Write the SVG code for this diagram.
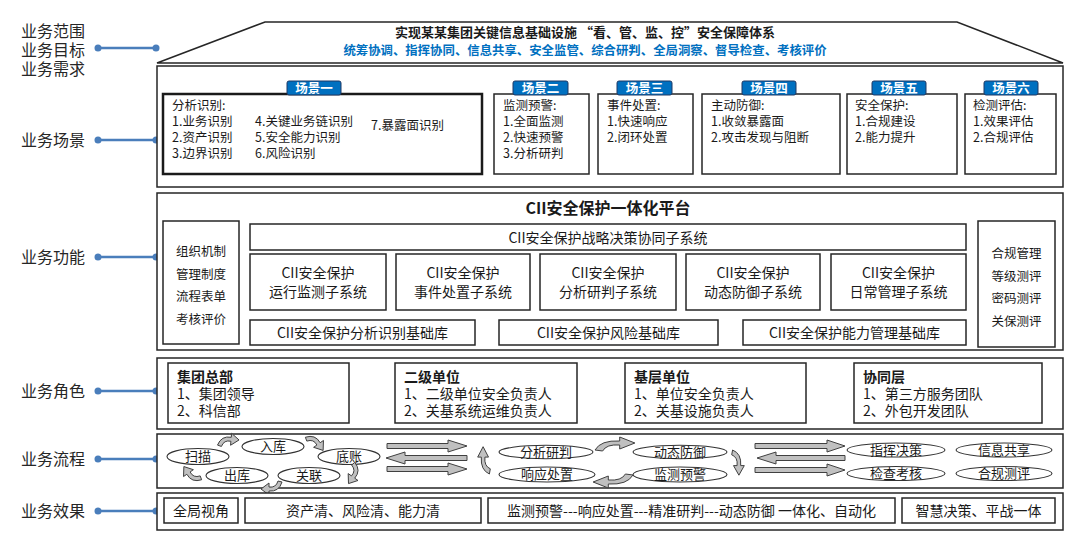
<svg xmlns="http://www.w3.org/2000/svg" width="1080" height="537" viewBox="0 0 1080 537">
<style>
.box{fill:#fff;stroke:#262626;stroke-width:1.5}
.t{font-family:"Noto Sans CJK SC","Liberation Sans",sans-serif;fill:#1a1a1a}
.lbl{font-size:16px;fill:#262626}
.sc{font-size:12.5px}
.p14{font-size:14px}
.p13{font-size:13px}
.b{font-weight:bold}
.m{text-anchor:middle}
.tag{fill:#0070c0;stroke:#1f3864;stroke-width:1}
.tagt{font-size:12.5px;font-weight:bold;fill:#fff}
.conn{stroke:#4a7ebb;stroke-width:2.5;fill:none}
.dot{fill:#4a7ebb}
.arr{fill:#c0c0c0;stroke:#404040;stroke-width:1}
.ell{fill:#fff;stroke:#333;stroke-width:1.1}
</style>
<defs>
<path id="ca" d="M -10,6 Q -7,-4 3,-3 L 3,-7 L 11,-1 L 3,5 L 3,1 Q -4,0 -6,7 Z" vector-effect="non-scaling-stroke"/>
</defs>

<g id="labels">
<text class="t lbl" x="21" y="37"><tspan x="21" y="37">业务范围</tspan><tspan x="21" y="56">业务目标</tspan><tspan x="21" y="75">业务需求</tspan></text>
<text class="t lbl" x="21" y="146">业务场景</text>
<text class="t lbl" x="21" y="263">业务功能</text>
<text class="t lbl" x="21" y="397">业务角色</text>
<text class="t lbl" x="21" y="465">业务流程</text>
<text class="t lbl" x="21" y="517">业务效果</text>
</g>
<g id="connectors">
<line class="conn" x1="98" y1="48" x2="156" y2="48"/><circle class="dot" cx="98" cy="48" r="3.5"/><circle class="dot" cx="156" cy="48" r="3.5"/>
<line class="conn" x1="98" y1="140" x2="156" y2="140"/><circle class="dot" cx="98" cy="140" r="3.5"/><circle class="dot" cx="156" cy="140" r="3.5"/>
<line class="conn" x1="98" y1="257" x2="156" y2="257"/><circle class="dot" cx="98" cy="257" r="3.5"/><circle class="dot" cx="156" cy="257" r="3.5"/>
<line class="conn" x1="98" y1="391" x2="156" y2="391"/><circle class="dot" cx="98" cy="391" r="3.5"/><circle class="dot" cx="156" cy="391" r="3.5"/>
<line class="conn" x1="98" y1="459" x2="156" y2="459"/><circle class="dot" cx="98" cy="459" r="3.5"/><circle class="dot" cx="156" cy="459" r="3.5"/>
<line class="conn" x1="98" y1="511" x2="156" y2="511"/><circle class="dot" cx="98" cy="511" r="3.5"/><circle class="dot" cx="156" cy="511" r="3.5"/>
</g>

<g id="roof">
<polygon class="box" points="157,63 265,22 957,22 1063,63"/>
<text class="t b m" x="585" y="36.5" font-size="13"><tspan x="585" y="36.5">实现某某集团关键信息基础设施 “看、管、监、控”安全保障体系</tspan><tspan x="585" y="54.5" font-size="12.4" style="fill:#0070c0">统筹协调、指挥协同、信息共享、安全监管、综合研判、全局洞察、督导检查、考核评价</tspan></text>
</g>

<g id="scenes">
<rect class="box" x="157" y="66" width="906" height="121"/>
<g id="scene1">
<rect x="163" y="94" width="319" height="80" fill="#fff" stroke="#1a1a1a" stroke-width="2.5"/>
<rect class="tag" x="287" y="81" width="54" height="14" rx="2"/>
<text class="t tagt m" x="314" y="92.5">场景一</text>
<text class="t sc" x="172" y="110"><tspan x="172" y="110">分析识别:</tspan><tspan x="172" y="126">1.业务识别</tspan><tspan x="172" y="142">2.资产识别</tspan><tspan x="172" y="158">3.边界识别</tspan><tspan x="255" y="126">4.关键业务链识别</tspan><tspan x="255" y="142">5.安全能力识别</tspan><tspan x="255" y="158">6.风险识别</tspan><tspan x="371" y="130">7.暴露面识别</tspan></text>
</g>
<g id="scene2">
<rect class="box" x="494" y="94" width="95" height="80"/>
<rect class="tag" x="513" y="81" width="55" height="14" rx="2"/>
<text class="t tagt m" x="540.5" y="92.5">场景二</text>
<text class="t sc" x="503" y="110"><tspan x="503" y="110">监测预警:</tspan><tspan x="503" y="126">1.全面监测</tspan><tspan x="503" y="142">2.快速预警</tspan><tspan x="503" y="158">3.分析研判</tspan></text>
</g>
<g id="scene3">
<rect class="box" x="598" y="94" width="95" height="80"/>
<rect class="tag" x="617" y="81" width="55" height="14" rx="2"/>
<text class="t tagt m" x="644.5" y="92.5">场景三</text>
<text class="t sc" x="607" y="110"><tspan x="607" y="110">事件处置:</tspan><tspan x="607" y="126">1.快速响应</tspan><tspan x="607" y="142">2.闭环处置</tspan></text>
</g>
<g id="scene4">
<rect class="box" x="702" y="94" width="138" height="80"/>
<rect class="tag" x="742" y="81" width="54" height="14" rx="2"/>
<text class="t tagt m" x="769" y="92.5">场景四</text>
<text class="t sc" x="711" y="110"><tspan x="711" y="110">主动防御:</tspan><tspan x="711" y="126">1.收敛暴露面</tspan><tspan x="711" y="142">2.攻击发现与阻断</tspan></text>
</g>
<g id="scene5">
<rect class="box" x="847" y="94" width="110" height="80"/>
<rect class="tag" x="872" y="81" width="54" height="14" rx="2"/>
<text class="t tagt m" x="899" y="92.5">场景五</text>
<text class="t sc" x="855" y="110"><tspan x="855" y="110">安全保护:</tspan><tspan x="855" y="126">1.合规建设</tspan><tspan x="855" y="142">2.能力提升</tspan></text>
</g>
<g id="scene6">
<rect class="box" x="965" y="94" width="91" height="80"/>
<rect class="tag" x="984" y="81" width="54" height="14" rx="2"/>
<text class="t tagt m" x="1011" y="92.5">场景六</text>
<text class="t sc" x="973" y="110"><tspan x="973" y="110">检测评估:</tspan><tspan x="973" y="126">1.效果评估</tspan><tspan x="973" y="142">2.合规评估</tspan></text>
</g>
</g>

<g id="platform">
<rect class="box" x="157" y="193" width="906" height="157"/>
<text class="t b m" x="608" y="214" font-size="16">CII安全保护一体化平台</text>
<g id="mgmt">
<rect class="box" x="163" y="221" width="76" height="123"/>
<text class="t sc m" x="201" y="256"><tspan x="201" y="256">组织机制</tspan><tspan x="201" y="278.5">管理制度</tspan><tspan x="201" y="301">流程表单</tspan><tspan x="201" y="323.5">考核评价</tspan></text>
</g>
<g id="eval">
<rect class="box" x="978" y="221" width="77" height="126"/>
<text class="t sc m" x="1016.5" y="258"><tspan x="1016.5" y="258">合规管理</tspan><tspan x="1016.5" y="280.5">等级测评</tspan><tspan x="1016.5" y="303">密码测评</tspan><tspan x="1016.5" y="325.5">关保测评</tspan></text>
</g>
<g id="strategy">
<rect class="box" x="250" y="224" width="716" height="26"/>
<text class="t p14 m" x="608" y="242.5">CII安全保护战略决策协同子系统</text>
</g>
<g id="sub1"><rect class="box" x="250" y="254" width="136" height="56"/>
<text class="t p14 m" x="318" y="278"><tspan x="318" y="278">CII安全保护</tspan><tspan x="318" y="297">运行监测子系统</tspan></text></g>
<g id="sub2"><rect class="box" x="396" y="254" width="134" height="56"/>
<text class="t p14 m" x="463" y="278"><tspan x="463" y="278">CII安全保护</tspan><tspan x="463" y="297">事件处置子系统</tspan></text></g>
<g id="sub3"><rect class="box" x="540" y="254" width="136" height="56"/>
<text class="t p14 m" x="608" y="278"><tspan x="608" y="278">CII安全保护</tspan><tspan x="608" y="297">分析研判子系统</tspan></text></g>
<g id="sub4"><rect class="box" x="686" y="254" width="134" height="56"/>
<text class="t p14 m" x="753" y="278"><tspan x="753" y="278">CII安全保护</tspan><tspan x="753" y="297">动态防御子系统</tspan></text></g>
<g id="sub5"><rect class="box" x="831" y="254" width="135" height="56"/>
<text class="t p14 m" x="898.5" y="278"><tspan x="898.5" y="278">CII安全保护</tspan><tspan x="898.5" y="297">日常管理子系统</tspan></text></g>
<g id="base1"><rect class="box" x="250" y="320" width="225" height="25"/>
<text class="t p14 m" x="362.5" y="337.5">CII安全保护分析识别基础库</text></g>
<g id="base2"><rect class="box" x="499" y="320" width="219" height="25"/>
<text class="t p14 m" x="608.5" y="337.5">CII安全保护风险基础库</text></g>
<g id="base3"><rect class="box" x="743" y="320" width="223" height="25"/>
<text class="t p14 m" x="854.5" y="337.5">CII安全保护能力管理基础库</text></g>
</g>

<g id="roles">
<rect class="box" x="157" y="358" width="906" height="71"/>
<g id="role1"><rect class="box" x="168" y="363" width="181" height="60"/>
<text class="t p14" x="177" y="382"><tspan x="177" y="382" class="b">集团总部</tspan><tspan x="177" y="399">1、集团领导</tspan><tspan x="177" y="416">2、科信部</tspan></text></g>
<g id="role2"><rect class="box" x="395" y="363" width="182" height="60"/>
<text class="t p14" x="404" y="382"><tspan x="404" y="382" class="b">二级单位</tspan><tspan x="404" y="399">1、二级单位安全负责人</tspan><tspan x="404" y="416">2、关基系统运维负责人</tspan></text></g>
<g id="role3"><rect class="box" x="625" y="363" width="181" height="60"/>
<text class="t p14" x="634" y="382"><tspan x="634" y="382" class="b">基层单位</tspan><tspan x="634" y="399">1、单位安全负责人</tspan><tspan x="634" y="416">2、关基设施负责人</tspan></text></g>
<g id="role4"><rect class="box" x="854" y="363" width="188" height="60"/>
<text class="t p14" x="863" y="382"><tspan x="863" y="382" class="b">协同层</tspan><tspan x="863" y="399">1、第三方服务团队</tspan><tspan x="863" y="416">2、外包开发团队</tspan></text></g>
</g>

<g id="flow">
<rect class="box" x="157" y="434" width="906" height="54"/>
<g id="n-scan"><ellipse class="ell" cx="198" cy="456.5" rx="31" ry="8"/><text class="t p13 m" x="198" y="461">扫描</text></g>
<g id="n-in"><ellipse class="ell" cx="273" cy="446.5" rx="31" ry="8"/><text class="t p13 m" x="273" y="451">入库</text></g>
<g id="n-ledger"><ellipse class="ell" cx="349" cy="456.5" rx="31" ry="8"/><text class="t p13 m" x="349" y="461">底账</text></g>
<g id="n-out"><ellipse class="ell" cx="237" cy="475.5" rx="31" ry="8"/><text class="t p13 m" x="237" y="480">出库</text></g>
<g id="n-link"><ellipse class="ell" cx="309" cy="475.5" rx="31" ry="8"/><text class="t p13 m" x="309" y="480">关联</text></g>
<g id="n-analyze"><ellipse class="ell" cx="546" cy="452" rx="47" ry="6.8"/><text class="t p13 m" x="546" y="456.5">分析研判</text></g>
<g id="n-defend"><ellipse class="ell" cx="680" cy="452" rx="47" ry="6.8"/><text class="t p13 m" x="680" y="456.5">动态防御</text></g>
<g id="n-respond"><ellipse class="ell" cx="547" cy="474.5" rx="48" ry="7.5"/><text class="t p13 m" x="547" y="479">响应处置</text></g>
<g id="n-monitor"><ellipse class="ell" cx="680" cy="474.5" rx="47" ry="7.5"/><text class="t p13 m" x="680" y="479">监测预警</text></g>
<g id="n-command"><ellipse class="ell" cx="896" cy="450" rx="49" ry="7"/><text class="t p13 m" x="896" y="454.5">指挥决策</text></g>
<g id="n-share"><ellipse class="ell" cx="1004" cy="450" rx="48" ry="7"/><text class="t p13 m" x="1004" y="454.5">信息共享</text></g>
<g id="n-inspect"><ellipse class="ell" cx="896" cy="473.5" rx="49" ry="7"/><text class="t p13 m" x="896" y="478">检查考核</text></g>
<g id="n-comply"><ellipse class="ell" cx="1004" cy="473.5" rx="48" ry="7"/><text class="t p13 m" x="1004" y="478">合规测评</text></g>
</g>

<g id="flow-arrows">
<use href="#ca" class="arr" transform="translate(228,440) rotate(5)"/>
<use href="#ca" class="arr" transform="translate(316,442) rotate(55)"/>
<use href="#ca" class="arr" transform="translate(354,474) rotate(125)"/>
<use href="#ca" class="arr" transform="translate(272,488) rotate(180)"/>
<use href="#ca" class="arr" transform="translate(191,475) rotate(235)"/>
<use href="#ca" class="arr" transform="translate(614,444) scale(1.9,1)"/>
<use href="#ca" class="arr" transform="translate(738,462) rotate(90) scale(1.2,0.9)"/>
<use href="#ca" class="arr" transform="translate(614,481) rotate(180) scale(1.9,1)"/>
<use href="#ca" class="arr" transform="translate(484,461) rotate(270) scale(1.3,0.9)"/>
<polygon class="arr" points="387,443.5 448,443.5 448,440 467,446 448,452 448,448.5 387,448.5"/>
<polygon class="arr" points="467,455.5 405,455.5 405,452 386,458 405,464 405,460.5 467,460.5"/>
<polygon class="arr" points="387,466.5 448,466.5 448,463 467,469 448,475 448,471.5 387,471.5"/>
<polygon class="arr" points="755,443.5 827,443.5 827,440 845,446 827,452 827,448.5 755,448.5"/>
<polygon class="arr" points="845,455.5 776,455.5 776,452 757,458 776,464 776,460.5 845,460.5"/>
<polygon class="arr" points="755,467.5 827,467.5 827,464 845,470 827,476 827,472.5 755,472.5"/>
</g>

<g id="effects">
<rect class="box" x="157" y="493" width="906" height="37"/>
<g id="eff1"><rect class="box" x="164" y="498" width="74" height="25"/><text class="t p14 m" x="201" y="515.5">全局视角</text></g>
<g id="eff2"><rect class="box" x="245" y="498" width="236" height="25"/><text class="t p14 m" x="363" y="515.5">资产清、风险清、能力清</text></g>
<g id="eff3"><rect class="box" x="488" y="498" width="407" height="25"/><text class="t p14 m" x="691.5" y="515.5">监测预警---响应处置---精准研判---动态防御 一体化、自动化</text></g>
<g id="eff4"><rect class="box" x="902" y="498" width="153" height="25"/><text class="t p14 m" x="978.5" y="515.5">智慧决策、平战一体</text></g>
</g>
</svg>
